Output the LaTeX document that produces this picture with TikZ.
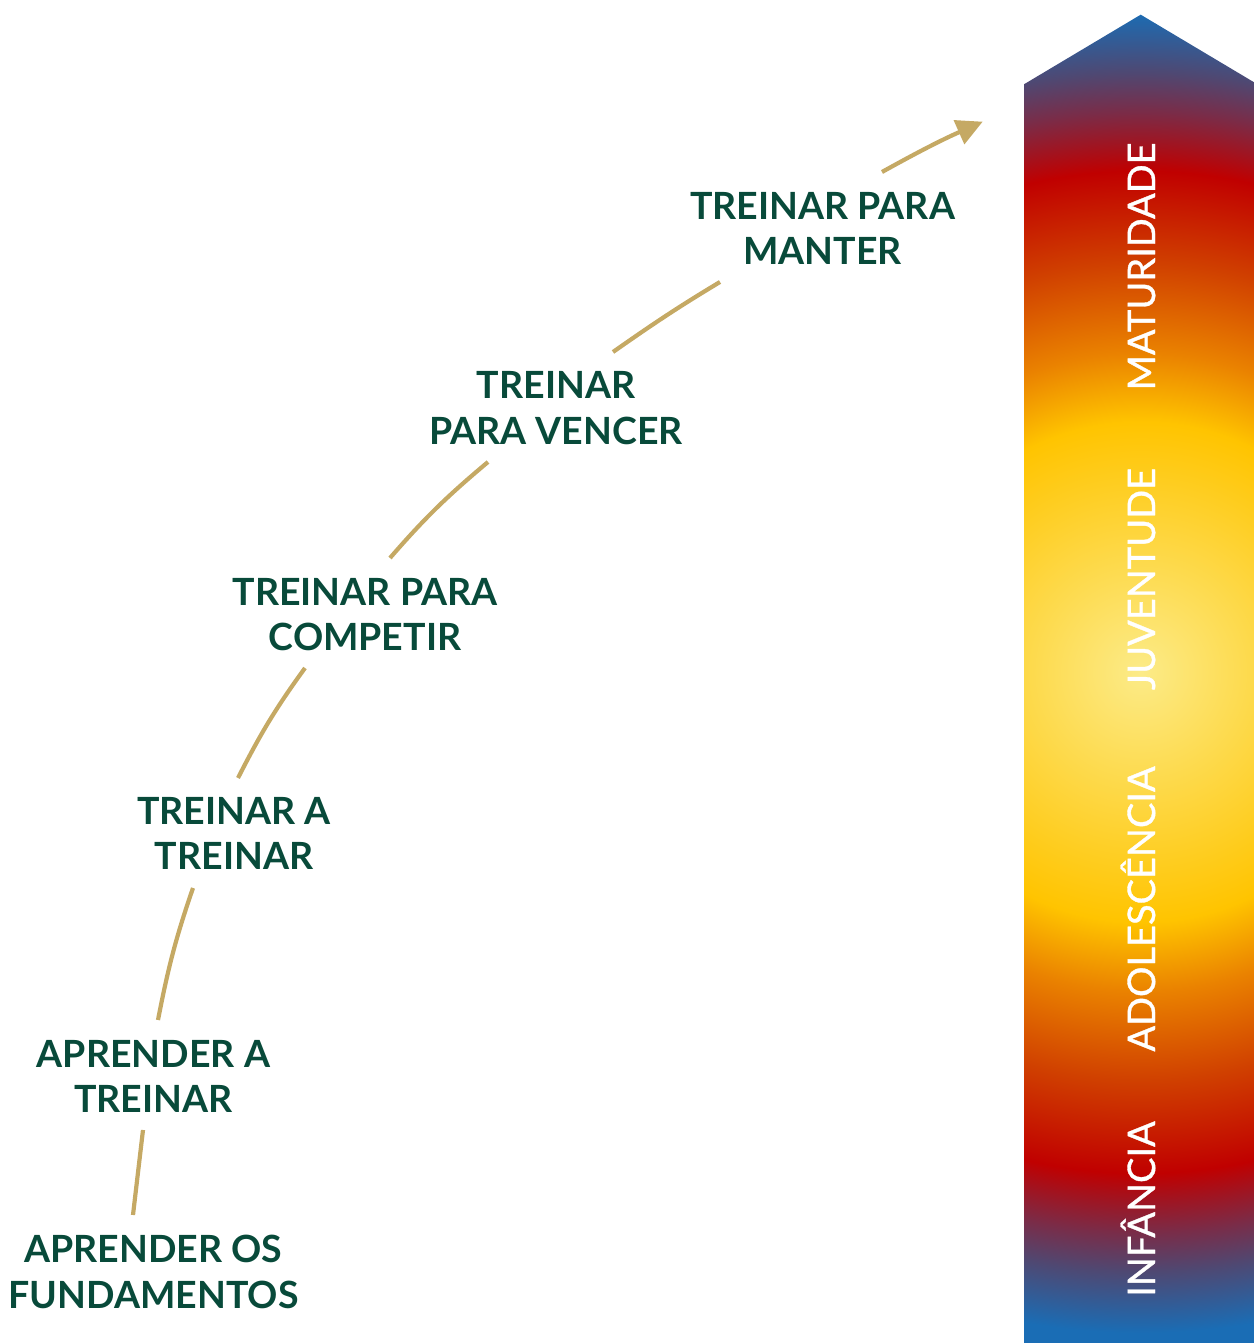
\documentclass[tikz,border=0pt]{standalone}
\usepackage{fontspec}
\setmainfont{Lato}
\newfontfamily\agefont{Lato}[FakeBold=0.9]
\usetikzlibrary{arrows.meta}
\definecolor{stagegreen}{RGB}{8,74,58}
\definecolor{goldline}{RGB}{197,169,100}
\definecolor{cA}{HTML}{FCEB88}
\definecolor{cB}{HTML}{FFC400}
\definecolor{cC}{HTML}{EA8200}
\definecolor{cD}{HTML}{D04000}
\definecolor{cE}{HTML}{C00000}
\definecolor{cF}{HTML}{7A2C48}
\definecolor{cG}{HTML}{4F4872}
\definecolor{cH}{HTML}{1A6DB5}
\pgfdeclareradialshading{barshade}{\pgfpoint{0bp}{0bp}}{color(0bp)=(cA); color(8.93bp)=(cB); color(11.4bp)=(cC); color(14.6bp)=(cD); color(17.9bp)=(cE); color(20bp)=(cF); color(21.4bp)=(cG); color(23.6bp)=(cH); color(50bp)=(cH)}
\begin{document}
\begin{tikzpicture}[x=1pt,y=1pt,
  stage/.style={text=stagegreen, font=\fontsize{37.5}{45.5}\selectfont\bfseries, align=center, inner sep=2pt},
  age/.style={text=white, font=\fontsize{38}{40}\agefont, rotate=90, anchor=base, inner sep=0pt},
  link/.style={draw=goldline, line width=4.2pt}]
\useasboundingbox (0,0) rectangle (1253,1343);
\begin{scope}
  \clip (1024,0) -- (1024,1258.7) -- (1140.7,1328.3) -- (1257.4,1258.7) -- (1257.4,0) -- cycle;
  \shade[shading=barshade] (1140.7,671) circle (700);
\end{scope}
\node[age] (infancia) at (1155,134) {INFÂNCIA};
\node[age] (adolescencia) at (1155,434) {ADOLESCÊNCIA};
\node[age] (juventude) at (1155,764) {JUVENTUDE};
\node[age] (maturidade) at (1155,1076.5) {MATURIDADE};

\node[stage] (fund) at (153.5,71.3) {APRENDER OS\\FUNDAMENTOS};
\node[stage] (apr) at (153.5,266.5) {APRENDER A\\TREINAR};
\node[stage] (tat) at (234,509.5) {TREINAR A\\TREINAR};
\node[stage] (tpc) at (365,728.5) {TREINAR PARA\\COMPETIR};
\node[stage] (tpv) at (556,935) {TREINAR\\PARA VENCER};
\node[stage] (tpm) at (822.5,1114.7) {TREINAR PARA\\MANTER};
\coordinate (tip) at (982.7,1221.3);

\draw[link] ([shift={(-20.5,56.7)}]fund.center) -- ([shift={(-10.5,-53.5)}]apr.center);
\draw[link] ([shift={(4.5,56.5)}]apr.center) to[out=79,in=251] ([shift={(-41,-54.5)}]tat.center);
\draw[link] ([shift={(4,55.5)}]tat.center) to[out=63,in=234] ([shift={(-60,-53.5)}]tpc.center);
\draw[link] ([shift={(25,56.5)}]tpc.center) to[out=49,in=220] ([shift={(-68,-54)}]tpv.center);
\draw[link] ([shift={(57,56)}]tpv.center) to[out=35,in=211] ([shift={(-102.5,-53.7)}]tpm.center);
\draw[link, -{Triangle[length=26pt,width=25.5pt]}] ([shift={(59.5,56.3)}]tpm.center) to[out=29,in=204] (tip);
\end{tikzpicture}
\end{document}
